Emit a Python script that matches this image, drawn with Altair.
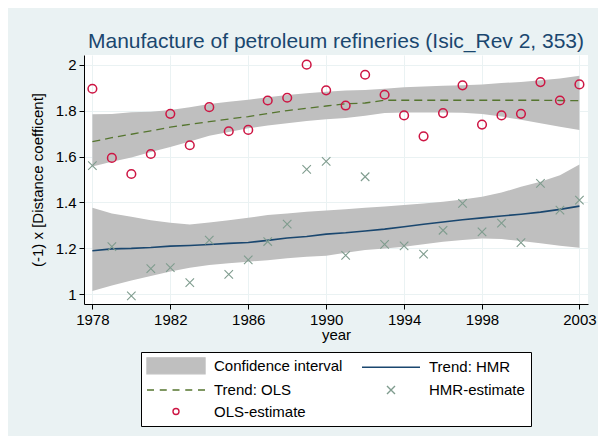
import altair as alt
import pandas as pd

# ---- data ----
years = list(range(1978, 2004))

ols_estimate = [1.895, 1.594, 1.524, 1.611, 1.786, 1.649, 1.815, 1.710, 1.716, 1.844,
                1.856, 2.000, 1.888, 1.822, 1.956, 1.869, 1.779, 1.688, 1.789, 1.910,
                1.739, 1.779, 1.786, 1.924, 1.844, 1.914]

hmr_estimate = [1.560, 1.208, 0.993, 1.112, 1.116, 1.051, 1.236, 1.087, 1.150, 1.230,
                1.306, 1.544, 1.579, 1.170, 1.512, 1.218, 1.211, 1.175, 1.279, 1.396,
                1.272, 1.310, 1.225, 1.483, 1.367, 1.410]

ols_trend = [1.665, 1.682, 1.697, 1.712, 1.728, 1.740, 1.752, 1.763, 1.774, 1.787,
             1.800, 1.810, 1.820, 1.830, 1.833, 1.845, 1.845, 1.845, 1.845, 1.845,
             1.845, 1.845, 1.845, 1.845, 1.844, 1.843]

ols_upper = [1.784, 1.785, 1.793, 1.795, 1.803, 1.815, 1.829, 1.838, 1.847, 1.858,
             1.868, 1.876, 1.882, 1.888, 1.890, 1.895, 1.902, 1.905, 1.908, 1.910,
             1.914, 1.920, 1.925, 1.932, 1.940, 1.952]

ols_lower = [1.557, 1.577, 1.596, 1.620, 1.641, 1.665, 1.690, 1.707, 1.723, 1.735,
             1.745, 1.755, 1.762, 1.768, 1.778, 1.790, 1.792, 1.792, 1.792, 1.791,
             1.785, 1.774, 1.760, 1.745, 1.730, 1.716]

hmr_trend = [1.190, 1.198, 1.200, 1.204, 1.210, 1.213, 1.217, 1.222, 1.226, 1.235,
             1.245, 1.252, 1.262, 1.268, 1.276, 1.284, 1.294, 1.305, 1.315, 1.325,
             1.333, 1.341, 1.349, 1.358, 1.370, 1.384]

hmr_upper = [1.377, 1.352, 1.338, 1.323, 1.312, 1.304, 1.313, 1.323, 1.333, 1.345,
             1.352, 1.360, 1.365, 1.370, 1.377, 1.383, 1.389, 1.396, 1.403, 1.413,
             1.425, 1.443, 1.468, 1.490, 1.519, 1.565]

hmr_lower = [1.015, 1.038, 1.060, 1.080, 1.099, 1.116, 1.128, 1.135, 1.142, 1.149,
             1.157, 1.164, 1.168, 1.181, 1.193, 1.200, 1.207, 1.218, 1.229, 1.237,
             1.243, 1.241, 1.232, 1.222, 1.212, 1.203]

x_ticks = [1978, 1982, 1986, 1990, 1994, 1998, 2003]
y_ticks = [1, 1.2, 1.4, 1.6, 1.8, 2]

# legend entries (column-major: first column, then second column)
series_names = ["Confidence interval", "Trend: OLS", "OLS-estimate",
                "Trend: HMR", "HMR-estimate"]

# ---- styles ----
FONT = "Liberation Sans"
C_BAND = "#bfbfbf"
C_HMR = "#1a476f"
C_OLS = "#55752f"
C_HMRPT = "#7f9c8e"
C_OLSPT = "#cd1543"

df = pd.DataFrame({
    "year": years,
    "ols_est": ols_estimate, "hmr_est": hmr_estimate,
    "ols_trend": ols_trend, "ols_lo": ols_lower, "ols_hi": ols_upper,
    "hmr_trend": hmr_trend, "hmr_lo": hmr_lower, "hmr_hi": hmr_upper,
})

xscale = alt.Scale(domain=[1977.57, 2003.44], nice=False, zero=False)
yscale = alt.Scale(domain=[0.958, 2.042], nice=False, zero=False)

X = alt.X("year:Q", scale=xscale,
          axis=alt.Axis(values=x_ticks, format="d", title="year", titlePadding=0,
                        labelPadding=3))
Y_AXIS = alt.Axis(values=y_ticks, format="~g", title="(-1) x [Distance coefficent]",
                  titlePadding=10, labelPadding=3)

base = alt.Chart(df)

ols_band = base.mark_area(color=C_BAND, opacity=1).encode(
    x=X, y=alt.Y("ols_lo:Q", scale=yscale, axis=Y_AXIS), y2="ols_hi:Q")
hmr_band = base.mark_area(color=C_BAND, opacity=1).encode(
    x=X, y=alt.Y("hmr_lo:Q", scale=yscale), y2="hmr_hi:Q")
ols_line = base.mark_line(color=C_OLS, strokeDash=[8, 5], strokeWidth=1.3).encode(
    x=X, y=alt.Y("ols_trend:Q", scale=yscale))
hmr_line = base.mark_line(color=C_HMR, strokeWidth=1.6).encode(
    x=X, y=alt.Y("hmr_trend:Q", scale=yscale))
hmr_pts = base.mark_point(shape="M-1,-1L1,1M-1,1L1,-1", size=72, color=C_HMRPT,
                          strokeWidth=1.1, opacity=1).encode(
    x=X, y=alt.Y("hmr_est:Q", scale=yscale))
ols_pts = base.mark_point(shape="circle", size=75, color=C_OLSPT, strokeWidth=1.5,
                          filled=False, opacity=1).encode(
    x=X, y=alt.Y("ols_est:Q", scale=yscale))

# legend symbols (unit = 5px, centred 4.3 units right of the entry's symbol anchor)
shape_range = [
    "M-1.5,-1.6H10.1V1.6H-1.5Z",
    "M-1.5,0H-0.1M1.05,0H2.45M3.6,0H5M6.15,0H7.55M8.7,0H10.1",
    "M4.9,0A0.6,0.6,0,1,1,3.7,0A0.6,0.6,0,1,1,4.9,0Z",
    "M-1.5,0H10.1",
    "M3.5,-0.8L5.1,0.8M3.5,0.8L5.1,-0.8",
]
fill_range = [C_BAND, "transparent", "transparent", "transparent", "transparent"]
stroke_range = [C_BAND, C_OLS, C_OLSPT, C_HMR, C_HMRPT]

leg = alt.Legend(title=None, orient="none", legendX=57, legendY=297, columns=2,
                 columnPadding=16, rowPadding=5.5, symbolOffset=0, labelOffset=52,
                 symbolSize=100, symbolStrokeWidth=1.4, labelFont=FONT,
                 labelFontSize=15, labelColor="#000", labelLimit=300,
                 fillColor="white", strokeColor="black", padding=6)

legend_df = pd.DataFrame({"series": series_names,
                          "year": [None] * 5, "val": [None] * 5})
legend_layer = alt.Chart(legend_df).mark_point(filled=True, size=100, strokeWidth=1.4,
                                               opacity=1).encode(
    x=alt.X("year:Q", scale=xscale),
    y=alt.Y("val:Q", scale=yscale),
    shape=alt.Shape("series:N", scale=alt.Scale(domain=series_names, range=shape_range),
                    legend=leg, sort=series_names),
    fill=alt.Fill("series:N", scale=alt.Scale(domain=series_names, range=fill_range),
                  legend=leg, sort=series_names),
    stroke=alt.Stroke("series:N", scale=alt.Scale(domain=series_names, range=stroke_range),
                      legend=leg, sort=series_names),
)

chart = alt.layer(ols_band, hmr_band, ols_line, hmr_line, hmr_pts, ols_pts,
                  legend_layer).properties(
    width=504, height=249,
    autosize=alt.AutoSizeParams(type="none"),
    padding={"left": 76, "top": 47, "right": 10, "bottom": 132},
    background="#eaf2f3",
    title=alt.TitleParams("Manufacture of petroleum refineries (Isic_Rev 2, 353)",
                          font=FONT, fontSize=21, fontWeight="normal",
                          color=C_HMR, offset=3, anchor="middle"),
).configure_view(
    stroke=None, fill="white"
).configure_axis(
    domainColor="#000", tickColor="#000", tickSize=5, domainWidth=1,
    labelFont=FONT, labelFontSize=15, labelColor="#000",
    titleFont=FONT, titleFontSize=15, titleColor="#000", titleFontWeight="normal",
    gridColor="#eaf2f3", gridWidth=1,
)

chart.save("out.html", embed_options={"renderer": "svg", "actions": False})
